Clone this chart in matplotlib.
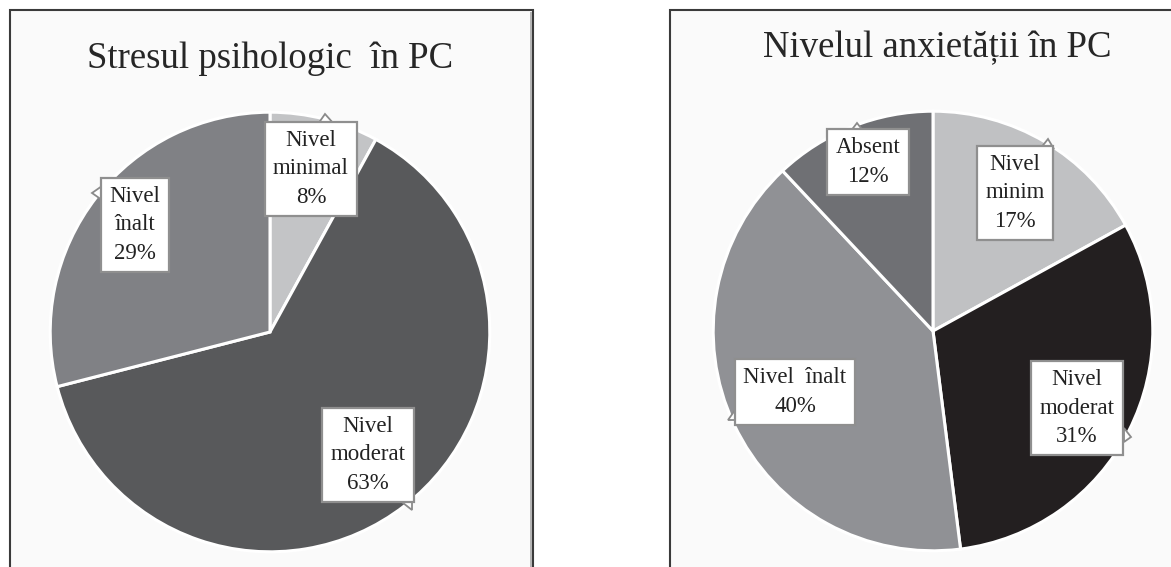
import matplotlib
matplotlib.use("Agg")
import matplotlib.pyplot as plt
from matplotlib.patches import Rectangle, Polygon

W, H = 1171, 567

# ---- data ----
stress_labels = ["Nivel\nminimal", "Nivel\nmoderat", "Nivel\nînalt"]
stress_values = [8, 63, 29]
stress_colors = ["#c3c4c6", "#58595b", "#808185"]

anx_labels = ["Nivel\nminim", "Nivel\nmoderat", "Nivel  înalt", "Absent"]
anx_values = [17, 31, 40, 12]
anx_colors = ["#c0c1c3", "#231f20", "#909195", "#6f7074"]

titles = ["Stresul psihologic  în PC", "Nivelul anxietății în PC"]

# ---- layout (pixels from top-left) ----
SERIF = ["Liberation Serif", "DejaVu Serif"]
pies = [
    dict(labels=stress_labels, values=stress_values, colors=stress_colors,
         center=(270, 332), r=222, title=titles[0], title_xy=(270, 68),
         label_xy=[(311, 169), (368, 455), (135, 225)],
         pointers=[((325, 114), (318, 124), (334, 124)),
                   ((412, 510), (398, 499), (412, 499)),
                   ((92, 193), (102, 186), (102, 200))]),
    dict(labels=anx_labels, values=anx_values, colors=anx_colors,
         center=(933, 331), r=222, title=titles[1], title_xy=(937, 57),
         label_xy=[(1015, 193), (1077, 408), (795, 392), (868, 162)],
         pointers=[((1048, 139), (1040, 149), (1054, 149)),
                   ((1131, 437), (1124, 428), (1124, 442)),
                   ((728, 420), (738, 406), (738, 420)),
                   ((857, 123), (850, 132), (864, 132))]),
]

fig = plt.figure(figsize=(W / 100, H / 100), dpi=100)
fig.patch.set_facecolor("white")

bg = fig.add_axes([0, 0, 1, 1])
bg.set_xlim(0, W)
bg.set_ylim(H, 0)
bg.axis("off")
bg.add_patch(Rectangle((10, 10), 523, 620, fc="#fafafa", ec="#3a3a3a", lw=1.5, zorder=0))
bg.add_patch(Rectangle((529.5, 12), 2.5, 620, fc="#b5b5b5", ec="none", zorder=1))
bg.add_patch(Rectangle((670, 10), 620, 620, fc="#fafafa", ec="#3a3a3a", lw=1.5, zorder=0))

for p in pies:
    cx, cy = p["center"]
    r = p["r"]
    ax = fig.add_axes([(cx - r) / W, (H - cy - r) / H, 2 * r / W, 2 * r / H])
    ax.pie(p["values"], colors=p["colors"], startangle=90, counterclock=False,
           radius=1.0, wedgeprops=dict(edgecolor="white", linewidth=2.2))
    ax.set_xlim(-1.01, 1.01)
    ax.set_ylim(-1.01, 1.01)
    ax.set_aspect("equal")
    ax.axis("off")

top = fig.add_axes([0, 0, 1, 1])
top.set_xlim(0, W)
top.set_ylim(H, 0)
top.axis("off")

for p in pies:
    tx, ty = p["title_xy"]
    top.text(tx, ty, p["title"], ha="center", va="baseline", fontsize=26.5,
             family=SERIF, color="#262626")
    for lab, val, (lx, ly), ptr in zip(p["labels"], p["values"], p["label_xy"], p["pointers"]):
        top.add_patch(Polygon(list(ptr), closed=True, fc="white", ec="#8a8a8a",
                              lw=1.3, zorder=4))
        top.text(lx, ly, f"{lab}\n{val}%", ha="center", va="center", fontsize=16.5,
                 family=SERIF, color="#222222", linespacing=1.45, zorder=5,
                 bbox=dict(boxstyle="square,pad=0.36", fc="white", ec="#8f8f8f", lw=1.6))

fig.savefig("out.png", dpi=100, facecolor="white")
